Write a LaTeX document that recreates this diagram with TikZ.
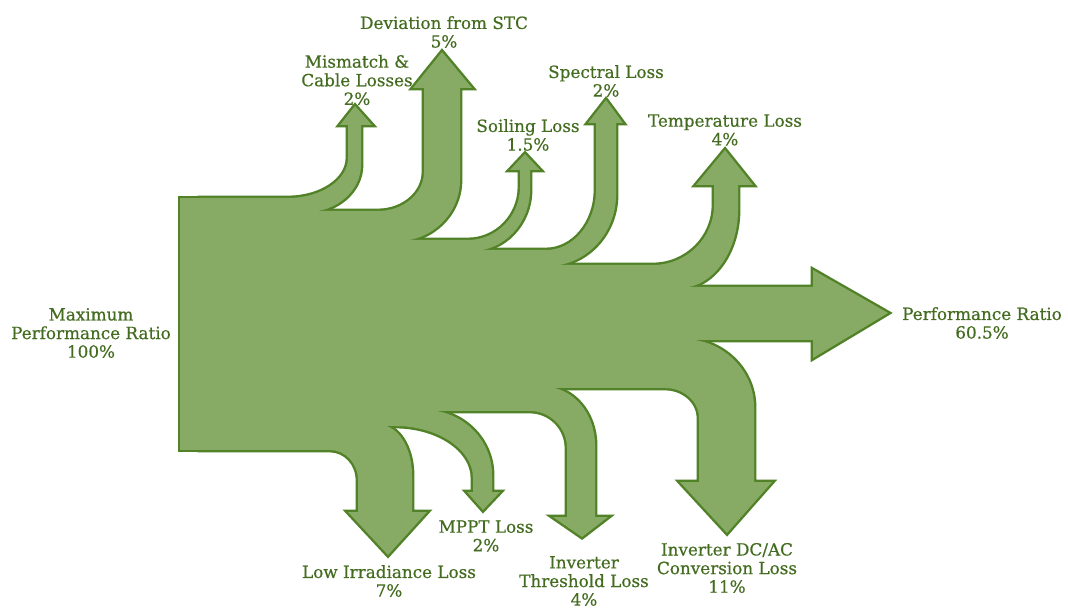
\documentclass[tikz,border=0pt]{standalone}
\usepackage{fontspec}
\newfontfamily\lblfont[FakeBold=0.5]{DejaVu Serif}
\definecolor{flowgreen}{RGB}{135,171,100}
\definecolor{flowedge}{RGB}{82,130,40}
\definecolor{labelgreen}{RGB}{68,108,32}

% quarter-ellipse turns: horizontal -> vertical and vertical -> horizontal
\newcommand\hv[4]{.. controls ({#1+0.55*(#3-(#1))},#2) and (#3,{#4+0.55*(#2-(#4))}) .. (#3,#4)}
\newcommand\vh[4]{.. controls (#1,{#2+0.55*(#4-(#2))}) and ({#3+0.55*(#1-(#3))},#4) .. (#3,#4)}

% source block
\def\flowMain{(180,198) rectangle (285,450)}
% losses leaving upwards
\def\flowMis{(200,198) -- (288,198) \hv{288}{198}{348}{158} -- (348,125) -- (340,125) -- (355,106) -- (372,125) -- (361,125) -- (361,165) \vh{361}{165}{307}{212} -- (200,212) -- cycle}
\def\flowDev{(200,211) -- (378,211) \hv{378}{211}{424}{172} -- (424,88) -- (413,88) -- (442,52) -- (472,88) -- (460,88) -- (460,180) \vh{460}{180}{398}{241} -- (200,241) -- cycle}
\def\flowSoil{(200,240) -- (468,240) \hv{468}{240}{520}{187} -- (520,170) -- (510,170) -- (525,154) -- (540,170) -- (530,170) -- (530,190) \vh{530}{190}{472}{251} -- (200,251) -- cycle}
\def\flowSpec{(200,250) -- (546,250) \hv{546}{250}{596}{190} -- (596,123) -- (588,123) -- (606,100) -- (623,123) -- (616,123) -- (616,195) \vh{616}{195}{548}{266} -- (200,266) -- cycle}
\def\flowTemp{(200,265) -- (653,265) \hv{653}{265}{714}{205} -- (714,185) -- (696,185) -- (725,150) -- (753,185) -- (738,185) -- (738,210) \vh{738}{210}{680}{288} -- (200,288) -- cycle}
% remaining output
\def\flowPerf{(200,287) -- (813,287) -- (813,270) -- (888,313) -- (813,358) -- (813,340) -- (200,340) -- cycle}
% losses leaving downwards
\def\flowDcac{(200,339) -- (683,339) \hv{683}{339}{754}{407} -- (754,482) -- (772,482) -- (727,533) -- (680,482) -- (699,482) -- (699,418) \vh{699}{418}{665}{388} -- (200,388) -- cycle}
\def\flowThr{(200,387) -- (545,387) \hv{545}{387}{595}{445} -- (595,517) -- (608,517) -- (582,537) -- (553,517) -- (567,517) -- (567,448) \vh{567}{448}{530}{411} -- (200,411) -- cycle}
\def\flowMppt{(200,410) -- (425,410) \hv{425}{410}{492}{475} -- (492,492) -- (500,492) -- (483,510) -- (467,492) -- (473,492) -- (473,478) \vh{473}{478}{395}{426} -- (200,426) -- cycle}
\def\flowLow{(200,425) -- (380,425) \hv{380}{425}{412}{475} -- (412,512) -- (427,512) -- (388,555) -- (348,512) -- (358,512) -- (358,480) \vh{358}{480}{330}{450} -- (200,450) -- cycle}

\tikzset{
  flowline/.style={draw=flowedge, line width=2.4pt},
  flowfill/.style={fill=flowgreen},
  lbl/.style={text=labelgreen, align=center, inner sep=0pt,
    font=\lblfont\fontsize{8.4}{9.3}\selectfont}
}

\begin{document}
\begin{tikzpicture}[x=0.5pt,y=-0.5pt]
  \useasboundingbox (0,0) rectangle (1068,613);
  \fill[white] (0,0) rectangle (1068,613);

  % outlines of every band first, then the fills over them,
  % so only the outer contour of the whole flow stays visible
  \draw[flowline] \flowMain;
  \draw[flowline] \flowMis;
  \draw[flowline] \flowDev;
  \draw[flowline] \flowSoil;
  \draw[flowline] \flowSpec;
  \draw[flowline] \flowTemp;
  \draw[flowline] \flowPerf;
  \draw[flowline] \flowDcac;
  \draw[flowline] \flowThr;
  \draw[flowline] \flowMppt;
  \draw[flowline] \flowLow;

  \fill[flowfill] \flowMain;
  \fill[flowfill] \flowMis;
  \fill[flowfill] \flowDev;
  \fill[flowfill] \flowSoil;
  \fill[flowfill] \flowSpec;
  \fill[flowfill] \flowTemp;
  \fill[flowfill] \flowPerf;
  \fill[flowfill] \flowDcac;
  \fill[flowfill] \flowThr;
  \fill[flowfill] \flowMppt;
  \fill[flowfill] \flowLow;

  % labels
  \node[lbl] (maxpr) at (91,333) {Maximum\\Performance Ratio\\100\%};
  \node[lbl] (mis)   at (357,80) {Mismatch \&\\Cable Losses\\2\%};
  \node[lbl] (dev)   at (444,32) {Deviation from STC\\5\%};
  \node[lbl] (soil)  at (528,135) {Soiling Loss\\1.5\%};
  \node[lbl] (spec)  at (606,81) {Spectral Loss\\2\%};
  \node[lbl] (temp)  at (725,130) {Temperature Loss\\4\%};
  \node[lbl] (perf)  at (982,323) {Performance Ratio\\60.5\%};
  \node[lbl] (low)   at (389,581) {Low Irradiance Loss\\7\%};
  \node[lbl] (mppt)  at (486,536) {MPPT Loss\\2\%};
  \node[lbl] (thr)   at (584,581) {Inverter\\Threshold Loss\\4\%};
  \node[lbl] (dcac)  at (727,568) {Inverter DC/AC\\Conversion Loss\\11\%};
\end{tikzpicture}
\end{document}
